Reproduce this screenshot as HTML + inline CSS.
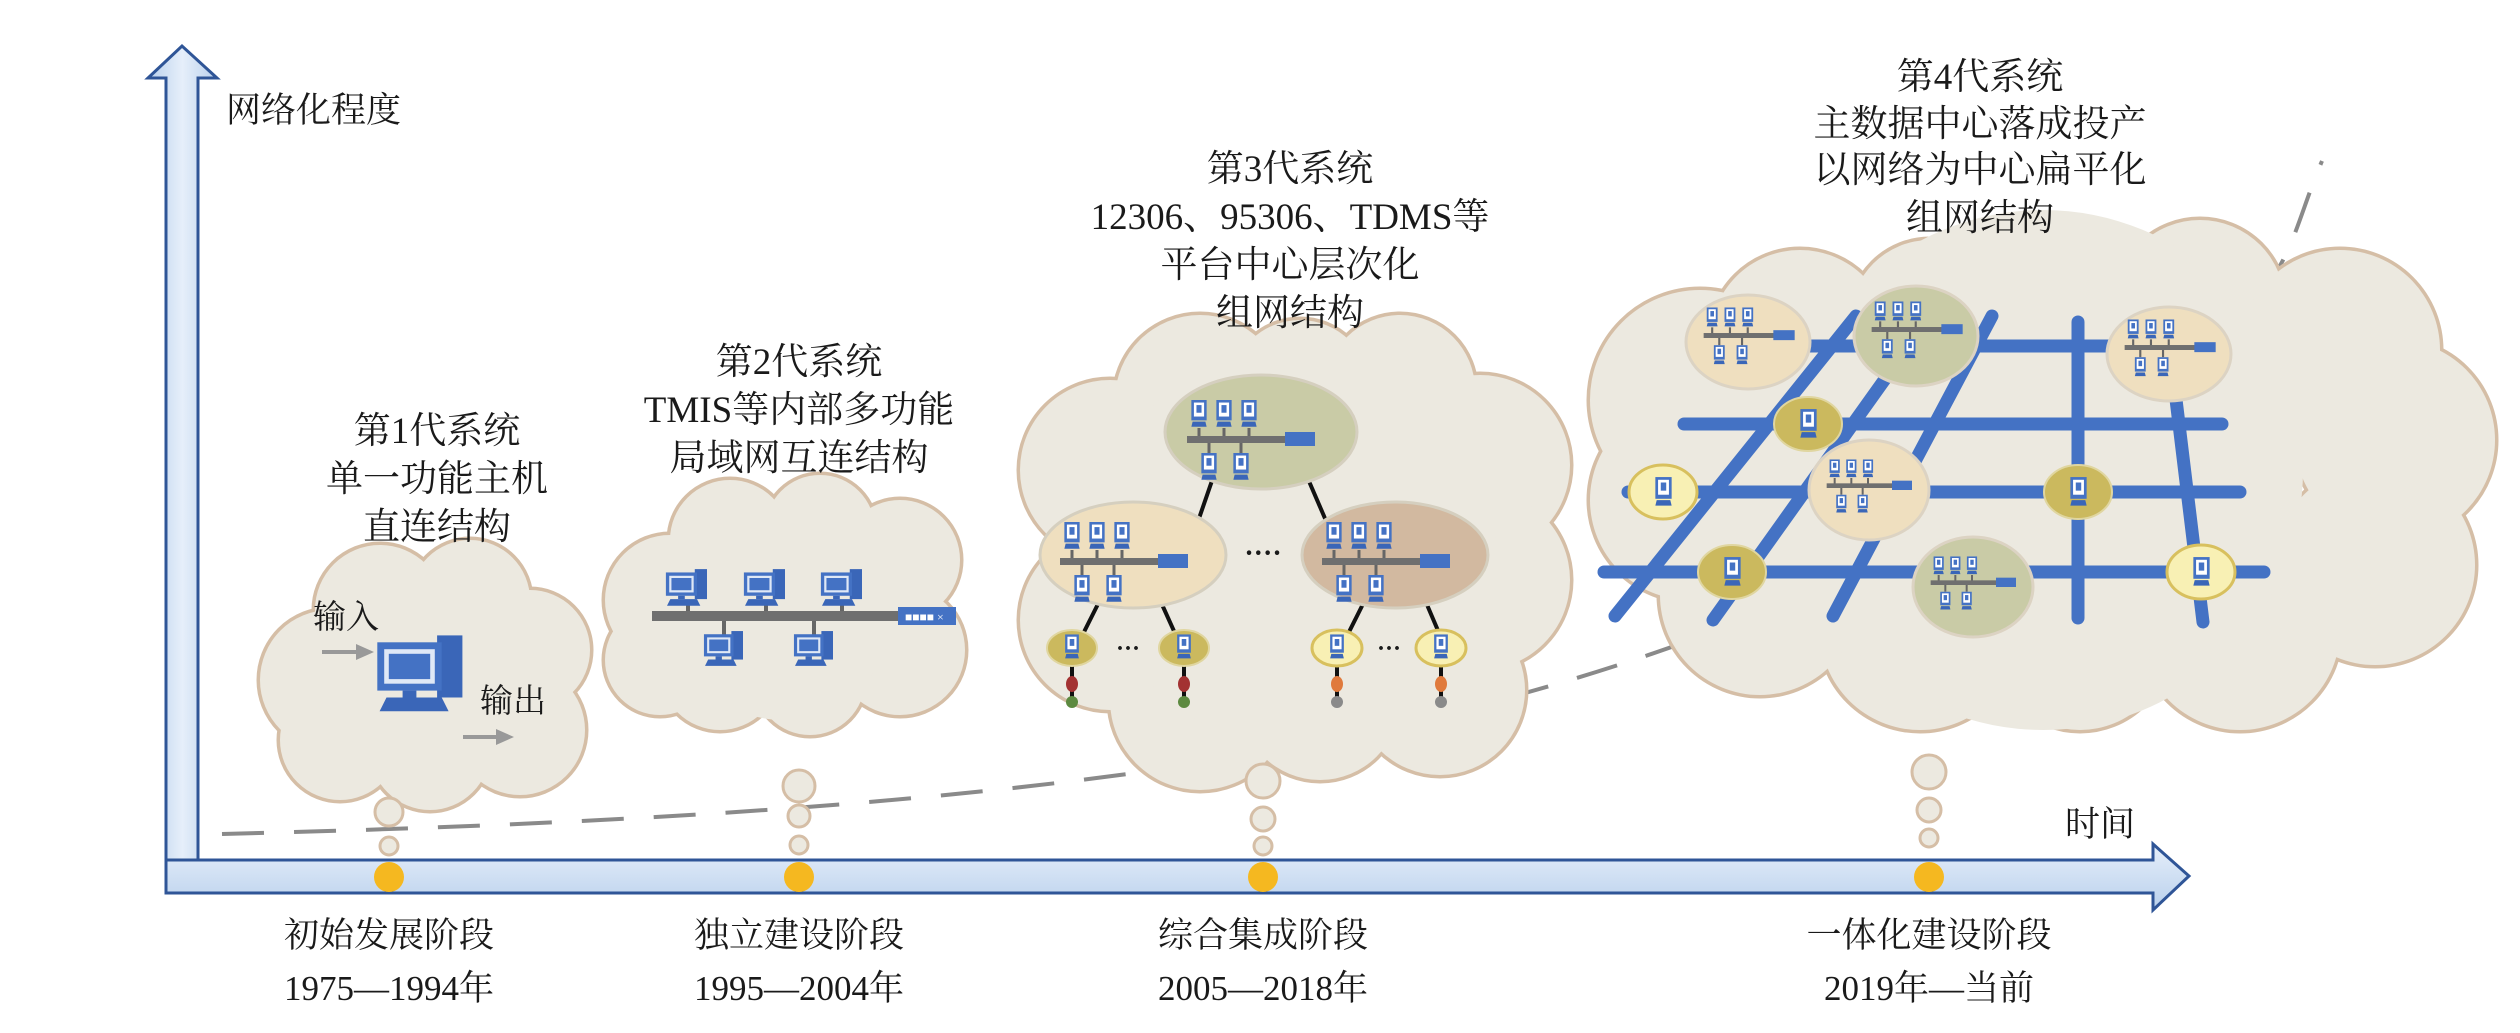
<!DOCTYPE html>
<html><head><meta charset="utf-8"><style>
html,body{margin:0;padding:0;background:#fff;}
svg{display:block;}
text{font-family:"Liberation Serif","Noto Serif CJK SC",serif;fill:#1a1a1a;}
</style></head><body>
<svg width="2520" height="1033" viewBox="0 0 2520 1033" xmlns="http://www.w3.org/2000/svg">
<defs>
<linearGradient id="gv" x1="0" y1="0" x2="1" y2="0"><stop offset="0" stop-color="#b9d0ec"/><stop offset="0.5" stop-color="#e6effa"/><stop offset="1" stop-color="#b9d0ec"/></linearGradient>
<linearGradient id="gh" x1="0" y1="0" x2="0" y2="1"><stop offset="0" stop-color="#e6effa"/><stop offset="1" stop-color="#b9d0ec"/></linearGradient>
<symbol id="pc" viewBox="0 0 40 36">
<rect x="27" y="1" width="11" height="27" fill="#3a66b8"/>
<rect x="1" y="4" width="28" height="21" fill="#4472c4"/>
<rect x="4" y="7" width="22" height="15" fill="#dfe8f6"/>
<rect x="6" y="9" width="18" height="11" fill="#4472c4"/>
<rect x="12" y="25" width="6" height="3" fill="#3a66b8"/>
<polygon points="5,28 29,28 32,34 2,34" fill="#3a66b8"/>
</symbol>
<symbol id="pc2" viewBox="0 0 14 22">
<rect x="1" y="0" width="12" height="16" fill="#4472c4"/>
<rect x="3" y="2" width="8" height="11" fill="#fff"/>
<rect x="5" y="4" width="4" height="6" fill="#4472c4"/>
<polygon points="2,17 12,17 13,21 1,21" fill="#3a66b8"/>
</symbol>
<symbol id="net" viewBox="0 0 140 90">
<use href="#pc2" x="5" y="2" width="18" height="28"/>
<use href="#pc2" x="30" y="2" width="18" height="28"/>
<use href="#pc2" x="55" y="2" width="18" height="28"/>
<line x1="14" y1="30" x2="14" y2="40" stroke="#666" stroke-width="3"/>
<line x1="39" y1="30" x2="39" y2="40" stroke="#666" stroke-width="3"/>
<line x1="64" y1="30" x2="64" y2="40" stroke="#666" stroke-width="3"/>
<rect x="2" y="38" width="100" height="7" fill="#6f6f6f"/>
<rect x="100" y="34" width="30" height="14" fill="#4472c4"/>
<line x1="24" y1="45" x2="24" y2="55" stroke="#666" stroke-width="3"/>
<line x1="56" y1="45" x2="56" y2="55" stroke="#666" stroke-width="3"/>
<use href="#pc2" x="15" y="55" width="18" height="28"/>
<use href="#pc2" x="47" y="55" width="18" height="28"/>
</symbol>
</defs>

<path d="M222,834 C700,822 1100,795 1400,725 S1900,565 2100,430 S2280,260 2322,161" fill="none" stroke="#8a8a8a" stroke-width="4" stroke-dasharray="42 30"/>

<g fill="#ece9e0" stroke="#d5bea6" stroke-width="7">
<circle cx="330" cy="680" r="70"/><circle cx="380" cy="610" r="65"/><circle cx="470" cy="600" r="60"/><circle cx="530" cy="650" r="60"/><circle cx="520" cy="730" r="65"/><circle cx="430" cy="750" r="60"/><circle cx="340" cy="740" r="60"/>
<circle cx="670" cy="600" r="65"/><circle cx="730" cy="540" r="60"/><circle cx="820" cy="530" r="55"/><circle cx="900" cy="560" r="60"/><circle cx="900" cy="650" r="65"/><circle cx="810" cy="680" r="55"/><circle cx="720" cy="670" r="60"/><circle cx="660" cy="660" r="55"/>
<circle cx="1110" cy="470" r="90"/><circle cx="1200" cy="400" r="85"/><circle cx="1300" cy="390" r="70"/><circle cx="1400" cy="390" r="75"/><circle cx="1480" cy="465" r="90"/><circle cx="1480" cy="580" r="90"/><circle cx="1440" cy="690" r="85"/><circle cx="1320" cy="700" r="80"/><circle cx="1200" cy="700" r="90"/><circle cx="1110" cy="620" r="90"/>
<circle cx="1700" cy="400" r="110"/><circle cx="1800" cy="340" r="90"/><circle cx="1930" cy="320" r="80"/><circle cx="2060" cy="312" r="62"/><circle cx="2200" cy="305" r="85"/><circle cx="2340" cy="350" r="100"/><circle cx="2395" cy="440" r="100"/><circle cx="2375" cy="565" r="100"/><circle cx="2240" cy="630" r="100"/><circle cx="2080" cy="640" r="90"/><circle cx="1920" cy="630" r="100"/><circle cx="1760" cy="595" r="100"/><circle cx="1690" cy="500" r="100"/>
</g>
<g fill="#ece9e0">
<circle cx="330" cy="680" r="70"/><circle cx="380" cy="610" r="65"/><circle cx="470" cy="600" r="60"/><circle cx="530" cy="650" r="60"/><circle cx="520" cy="730" r="65"/><circle cx="430" cy="750" r="60"/><circle cx="340" cy="740" r="60"/><circle cx="425" cy="675" r="100"/>
<circle cx="670" cy="600" r="65"/><circle cx="730" cy="540" r="60"/><circle cx="820" cy="530" r="55"/><circle cx="900" cy="560" r="60"/><circle cx="900" cy="650" r="65"/><circle cx="810" cy="680" r="55"/><circle cx="720" cy="670" r="60"/><circle cx="660" cy="660" r="55"/><circle cx="783" cy="610" r="110"/>
<circle cx="1110" cy="470" r="90"/><circle cx="1200" cy="400" r="85"/><circle cx="1300" cy="390" r="70"/><circle cx="1400" cy="390" r="75"/><circle cx="1480" cy="465" r="90"/><circle cx="1480" cy="580" r="90"/><circle cx="1440" cy="690" r="85"/><circle cx="1320" cy="700" r="80"/><circle cx="1200" cy="700" r="90"/><circle cx="1110" cy="620" r="90"/><circle cx="1296" cy="546" r="200"/>
<circle cx="1700" cy="400" r="110"/><circle cx="1800" cy="340" r="90"/><circle cx="1930" cy="320" r="80"/><circle cx="2060" cy="312" r="62"/><circle cx="2200" cy="305" r="85"/><circle cx="2340" cy="350" r="100"/><circle cx="2395" cy="440" r="100"/><circle cx="2375" cy="565" r="100"/><circle cx="2240" cy="630" r="100"/><circle cx="2080" cy="640" r="90"/><circle cx="1920" cy="630" r="100"/><circle cx="1760" cy="595" r="100"/><circle cx="1690" cy="500" r="100"/><circle cx="2043" cy="470" r="260"/>
</g>

<g fill="#ece9e0" stroke="#d5bea6" stroke-width="3">
<circle cx="389" cy="812" r="14"/><circle cx="389" cy="846" r="9"/>
<circle cx="799" cy="786" r="16"/><circle cx="799" cy="816" r="11"/><circle cx="799" cy="845" r="9"/>
<circle cx="1263" cy="781" r="17"/><circle cx="1263" cy="819" r="12"/><circle cx="1263" cy="846" r="9"/>
<circle cx="1929" cy="772" r="17"/><circle cx="1929" cy="810" r="12"/><circle cx="1929" cy="838" r="9"/>
</g>

<polygon points="166,893 166,78 148,78 182,46 217,78 198,78 198,893" fill="url(#gv)" stroke="#2f5597" stroke-width="3"/>
<polygon points="166,860 2153,860 2153,844 2189,876 2153,910 2153,893 166,893" fill="url(#gh)" stroke="#2f5597" stroke-width="3"/>
<g fill="#f5b820"><circle cx="389" cy="877" r="15"/><circle cx="799" cy="877" r="15"/><circle cx="1263" cy="877" r="15"/><circle cx="1929" cy="877" r="15"/></g>

<g font-size="35">
<text x="226" y="122">网络化程度</text>
<text x="2065" y="836">时间</text>
</g>
<g font-size="35" text-anchor="middle">
<text x="389" y="947">初始发展阶段</text><text x="389" y="1000">1975—1994年</text>
<text x="799" y="947">独立建设阶段</text><text x="799" y="1000">1995—2004年</text>
<text x="1263" y="947">综合集成阶段</text><text x="1263" y="1000">2005—2018年</text>
<text x="1929" y="947">一体化建设阶段</text><text x="1929" y="1000">2019年—当前</text>
</g>

<g font-size="37" text-anchor="middle">
<text x="437" y="443">第1代系统</text><text x="437" y="491">单一功能主机</text><text x="437" y="539">直连结构</text>
<text x="799" y="374">第2代系统</text><text x="799" y="422">TMIS等内部多功能</text><text x="799" y="470">局域网互连结构</text>
<text x="1290" y="181">第3代系统</text><text x="1290" y="229">12306、95306、TDMS等</text><text x="1290" y="277">平台中心层次化</text><text x="1290" y="325">组网结构</text>
<text x="1980" y="89">第4代系统</text><text x="1980" y="136">主数据中心落成投产</text><text x="1980" y="182">以网络为中心扁平化</text><text x="1980" y="230">组网结构</text>
</g>

<use href="#pc" x="375" y="633" width="92" height="83"/>
<text x="313" y="628" font-size="33">输入</text>
<text x="480" y="712" font-size="33">输出</text>
<line x1="322" y1="652" x2="358" y2="652" stroke="#999" stroke-width="4"/><polygon points="356,644 374,652 356,660" fill="#999"/>
<line x1="463" y1="737" x2="498" y2="737" stroke="#999" stroke-width="4"/><polygon points="496,729 514,737 496,745" fill="#999"/>

<g stroke="#666" stroke-width="4">
<line x1="688" y1="600" x2="688" y2="615"/><line x1="766" y1="600" x2="766" y2="615"/><line x1="842" y1="600" x2="842" y2="615"/>
<line x1="724" y1="620" x2="724" y2="635"/><line x1="814" y1="620" x2="814" y2="635"/>
</g>
<rect x="652" y="611" width="250" height="10" fill="#6f6f6f"/>
<rect x="898" y="607" width="58" height="18" fill="#4472c4"/>
<text x="905" y="621" font-size="12" style="fill:#fff">■■■■ ×</text>
<use href="#pc" x="663" y="568" width="48" height="40"/>
<use href="#pc" x="741" y="568" width="48" height="40"/>
<use href="#pc" x="818" y="568" width="48" height="40"/>
<use href="#pc" x="702" y="630" width="44" height="38"/>
<use href="#pc" x="792" y="630" width="44" height="38"/>

<g stroke="#111" stroke-width="4">
<line x1="1215" y1="472" x2="1195" y2="530"/><line x1="1305" y1="472" x2="1330" y2="530"/>
<line x1="1100" y1="600" x2="1080" y2="640"/><line x1="1160" y1="600" x2="1178" y2="640"/>
<line x1="1365" y1="600" x2="1345" y2="640"/><line x1="1425" y1="600" x2="1442" y2="640"/>
<line x1="1072" y1="660" x2="1072" y2="700"/><line x1="1184" y1="660" x2="1184" y2="700"/>
<line x1="1337" y1="660" x2="1337" y2="700"/><line x1="1441" y1="660" x2="1441" y2="700"/>
</g>
<ellipse cx="1261" cy="432" rx="96" ry="57" fill="#c9cba6" stroke="#d5cfbf" stroke-width="3"/>
<ellipse cx="1133" cy="555" rx="93" ry="53" fill="#efdfbf" stroke="#d5cfbf" stroke-width="3"/>
<ellipse cx="1395" cy="555" rx="93" ry="53" fill="#d2b9a0" stroke="#d5cfbf" stroke-width="3"/>
<use href="#net" x="1185" y="398" width="140" height="90"/>
<use href="#net" x="1058" y="520" width="140" height="90"/>
<use href="#net" x="1320" y="520" width="140" height="90"/>
<text x="1263" y="562" font-size="28" text-anchor="middle" font-weight="bold">····</text>
<ellipse cx="1072" cy="648" rx="25" ry="18" fill="#cbb95e" stroke="#e0d6a0" stroke-width="2"/>
<ellipse cx="1184" cy="648" rx="25" ry="18" fill="#cbb95e" stroke="#e0d6a0" stroke-width="2"/>
<ellipse cx="1337" cy="648" rx="25" ry="18" fill="#f8f0b4" stroke="#d8c05e" stroke-width="3"/>
<ellipse cx="1441" cy="648" rx="25" ry="18" fill="#f8f0b4" stroke="#d8c05e" stroke-width="3"/>
<use href="#pc2" x="1064" y="634" width="16" height="26"/>
<use href="#pc2" x="1176" y="634" width="16" height="26"/>
<use href="#pc2" x="1329" y="634" width="16" height="26"/>
<use href="#pc2" x="1433" y="634" width="16" height="26"/>
<text x="1128" y="656" font-size="24" text-anchor="middle" font-weight="bold">···</text>
<text x="1389" y="656" font-size="24" text-anchor="middle" font-weight="bold">···</text>
<g><ellipse cx="1072" cy="684" rx="6" ry="8" fill="#a33232"/><ellipse cx="1184" cy="684" rx="6" ry="8" fill="#a33232"/><ellipse cx="1337" cy="684" rx="6" ry="8" fill="#e07a3c"/><ellipse cx="1441" cy="684" rx="6" ry="8" fill="#e07a3c"/>
<circle cx="1072" cy="702" r="6" fill="#5d8a40"/><circle cx="1184" cy="702" r="6" fill="#5d8a40"/><circle cx="1337" cy="702" r="6" fill="#8a8a8a"/><circle cx="1441" cy="702" r="6" fill="#8a8a8a"/></g>

<g stroke="#4472c4" stroke-width="13" stroke-linecap="round">
<line x1="1856" y1="316" x2="1615" y2="616"/>
<line x1="1930" y1="316" x2="1713" y2="620"/>
<line x1="1992" y1="316" x2="1833" y2="616"/>
<line x1="2078" y1="322" x2="2078" y2="618"/>
<line x1="2170" y1="350" x2="2203" y2="622"/>
<line x1="1784" y1="346" x2="2153" y2="346"/>
<line x1="1684" y1="424" x2="2222" y2="424"/>
<line x1="1628" y1="492" x2="2240" y2="492"/>
<line x1="1604" y1="572" x2="2264" y2="572"/>
</g>
<ellipse cx="1748" cy="342" rx="62" ry="47" fill="#efdfbf" stroke="#dcd3c3" stroke-width="3"/>
<ellipse cx="1916" cy="336" rx="62" ry="50" fill="#c9cba6" stroke="#dcd3c3" stroke-width="3"/>
<ellipse cx="2169" cy="354" rx="62" ry="47" fill="#efdfbf" stroke="#dcd3c3" stroke-width="3"/>
<ellipse cx="1869" cy="490" rx="60" ry="50" fill="#efdfbf" stroke="#dcd3c3" stroke-width="3"/>
<ellipse cx="1973" cy="587" rx="60" ry="50" fill="#c9cba6" stroke="#dcd3c3" stroke-width="3"/>
<use href="#net" x="1702" y="306" width="100" height="64"/>
<use href="#net" x="1870" y="300" width="100" height="64"/>
<use href="#net" x="2123" y="318" width="100" height="64"/>
<use href="#net" x="1825" y="458" width="94" height="60"/>
<use href="#net" x="1929" y="555" width="94" height="60"/>
<ellipse cx="1808" cy="424" rx="34" ry="27" fill="#cbb95e" stroke="#e0d6a0" stroke-width="2"/>
<ellipse cx="1663" cy="492" rx="34" ry="27" fill="#f8f0b4" stroke="#d8c05e" stroke-width="3"/>
<ellipse cx="2078" cy="492" rx="34" ry="27" fill="#cbb95e" stroke="#e0d6a0" stroke-width="2"/>
<ellipse cx="1732" cy="572" rx="34" ry="27" fill="#cbb95e" stroke="#e0d6a0" stroke-width="2"/>
<ellipse cx="2201" cy="572" rx="34" ry="27" fill="#f8f0b4" stroke="#d8c05e" stroke-width="3"/>
<use href="#pc2" x="1799" y="409" width="19" height="30"/>
<use href="#pc2" x="1654" y="477" width="19" height="30"/>
<use href="#pc2" x="2069" y="477" width="19" height="30"/>
<use href="#pc2" x="1723" y="557" width="19" height="30"/>
<use href="#pc2" x="2192" y="557" width="19" height="30"/>
</svg>
</body></html>
